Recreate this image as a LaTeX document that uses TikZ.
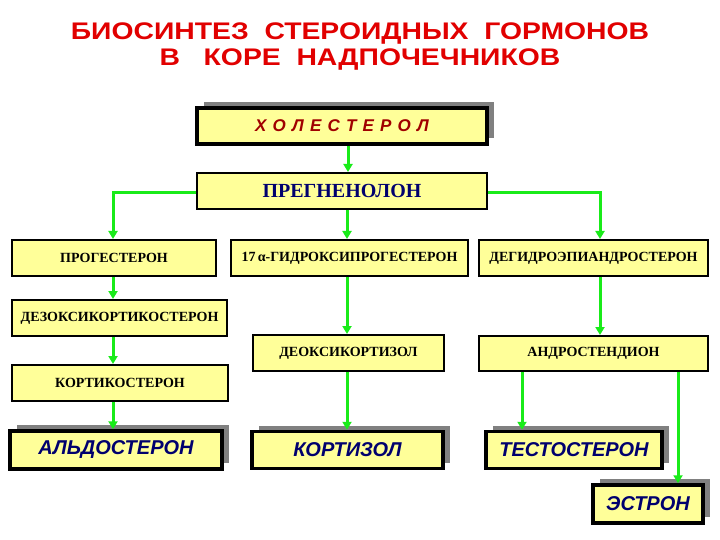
\documentclass[tikz,border=0pt]{standalone}
\usepackage{fontspec}
\setmainfont{Liberation Serif}
\newfontfamily\arialf{Liberation Sans}
\usetikzlibrary{arrows.meta,shadows}
\definecolor{boxyellow}{RGB}{255,255,153}
\definecolor{shadowgray}{RGB}{128,128,128}
\definecolor{arrgreen}{RGB}{25,235,25}
\definecolor{titlered}{RGB}{225,0,0}
\definecolor{cholred}{RGB}{160,0,0}
\definecolor{navyblue}{RGB}{0,0,110}
\tikzset{
  titletext/.style={anchor=base, inner sep=0pt, text=titlered, font=\arialf\bfseries\fontsize{24}{26}\selectfont},
  basebox/.style={draw=black, fill=boxyellow, line width=2pt, inner sep=0pt, minimum height=36pt},
  midbox/.style={basebox, font=\bfseries\fontsize{14}{16}\selectfont},
  shadowed/.style={basebox, line width=3.5pt,
     drop shadow={shadow xshift=7pt, shadow yshift=6pt, fill=shadowgray, opacity=1}},
  finalbox/.style={shadowed, minimum height=37pt, text=navyblue,
     font=\arialf\bfseries\itshape\fontsize{20}{23}\selectfont},
  arr/.style={draw=arrgreen, line width=3pt, -{Triangle[length=8pt,width=9pt]}},
}
\begin{document}
\begin{tikzpicture}[x=1pt,y=-1pt]
\useasboundingbox (0,0) rectangle (720,540);
\node[titletext] (title1) at (360,40) {\scalebox{1.18}[1]{БИОСИНТЕЗ\ \ СТЕРОИДНЫХ\ \ ГОРМОНОВ}};
\node[titletext] (title2) at (360,66) {\scalebox{1.18}[1]{В\ \ \ КОРЕ\ \ НАДПОЧЕЧНИКОВ}};
\node[shadowed, minimum width=290pt, text=cholred, font=\arialf\bfseries\itshape\fontsize{17}{19}\selectfont] (chol) at (342,126)
  {Х\hskip6.2ptО\hskip6.2ptЛ\hskip6.2ptЕ\hskip6.2ptС\hskip6.2ptТ\hskip6.2ptЕ\hskip6.2ptР\hskip6.2ptО\hskip6.2ptЛ};
\node[basebox, minimum width=290pt, text=navyblue, font=\bfseries\fontsize{20}{23}\selectfont] (preg) at (342,191) {ПРЕГНЕНОЛОН};
\node[midbox, minimum width=204pt] (prog) at (114,258) {ПРОГЕСТЕРОН};
\node[midbox, minimum width=237pt] (ohp) at (349.5,258) {17\,α-ГИДРОКСИПРОГЕСТЕРОН};
\node[midbox, minimum width=229pt] (dhea) at (593.5,258) {ДЕГИДРОЭПИАНДРОСТЕРОН};
\node[midbox, minimum width=215pt] (doc) at (119.5,318) {ДЕЗОКСИКОРТИКОСТЕРОН};
\node[midbox, minimum width=191pt] (dcort) at (348.5,353) {ДЕОКСИКОРТИЗОЛ};
\node[midbox, minimum width=229pt, minimum height=35pt] (andro) at (593.5,353.5) {АНДРОСТЕНДИОН};
\node[midbox, minimum width=216pt] (corts) at (120,383) {КОРТИКОСТЕРОН};
\node[finalbox, minimum width=212pt, minimum height=38pt] (aldo) at (116,450) {АЛЬДОСТЕРОН};
\node[finalbox, minimum width=191pt] (cortisol) at (347.5,450) {КОРТИЗОЛ};
\node[finalbox, minimum width=176pt] (testo) at (574,450) {ТЕСТОСТЕРОН};
\node[finalbox, minimum width=110pt, minimum height=38pt] (estron) at (648,504) {ЭСТРОН};
% connectors
\draw[arr] ([xshift=6pt]chol.south) -- ([xshift=6pt]preg.north);
\draw[arr] ([yshift=-2pt]preg.west) -| ([xshift=-1pt]prog.north);
\draw[arr] ([yshift=-2pt]preg.east) -| ([xshift=6.5pt]dhea.north);
\draw[arr] ([xshift=5pt]preg.south) -- ([xshift=-2.5pt]ohp.north);
\draw[arr] ([xshift=-1pt]prog.south) -- ([xshift=-6.5pt]doc.north);
\draw[arr] ([xshift=-6.5pt]doc.south) -- ([xshift=-7pt]corts.north);
\draw[arr] ([xshift=-7pt]corts.south) -- ([xshift=-3pt]aldo.north);
\draw[arr] ([xshift=-2.5pt]ohp.south) -- ([xshift=-1.5pt]dcort.north);
\draw[arr] ([xshift=-1.5pt]dcort.south) -- ([xshift=-0.5pt]cortisol.north);
\draw[arr] ([xshift=6.5pt]dhea.south) -- ([xshift=6.5pt]andro.north);
\draw[arr] ([xshift=-71.5pt]andro.south) -- ([xshift=-52pt]testo.north);
\draw[arr] ([xshift=84.5pt]andro.south) -- ([xshift=30pt]estron.north);
\end{tikzpicture}
\end{document}
